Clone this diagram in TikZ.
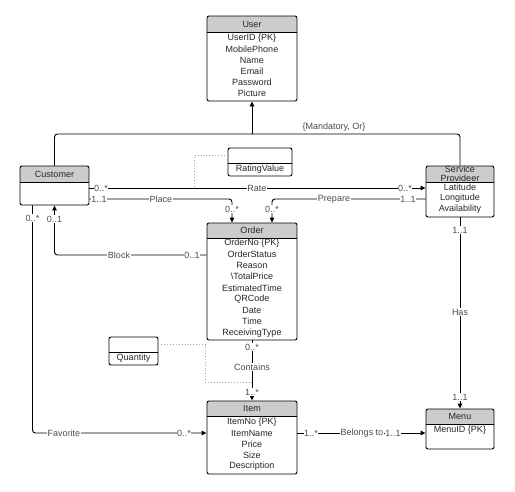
\documentclass[tikz,border=0pt]{standalone}
\usepackage{fontspec}
\setmainfont{Liberation Sans}
\usetikzlibrary{arrows.meta}

\begin{document}
\begin{tikzpicture}[x=1pt, y=-1pt, line width=0.9pt, font=\fontsize{9}{9.5}\selectfont,
	cls/.style={draw, rounded corners=2pt, inner sep=0pt, path picture={
		\fill[gray!40, sharp corners] (path picture bounding box.north west) rectangle ([yshift=-#1pt]path picture bounding box.north east);
		\draw[sharp corners] ([yshift=-#1pt]path picture bounding box.north west) -- ([yshift=-#1pt]path picture bounding box.north east);}},
	assoc/.style={draw, rounded corners=2pt, inner sep=0pt, path picture={
		\draw[sharp corners] ([yshift=-#1pt]path picture bounding box.north west) -- ([yshift=-#1pt]path picture bounding box.north east);}},
	txt/.style={inner sep=0pt, text=black!85},
	link/.style={rounded corners=3pt},
	arr/.style={link, -{Triangle[length=5pt,width=4.5pt]}},
	note/.style={dotted, gray!70},
	lbl/.style={fill=white, inner sep=0.6pt, text=black!70}]
	\useasboundingbox (0,0) rectangle (515,491);

	\node[cls=16, minimum width=90pt, minimum height=85pt] (user) at (252,58.5) {};
	\node[txt] (userT) at (252,24) {User};
	\foreach \a [count=\i] in {UserID \{PK\},MobilePhone,Name,Email,Password,Picture}
		\node[txt] (user\i) at (252,{27+11*\i}) {\a};

	\node[cls=16, minimum width=69pt, minimum height=39pt] (customer) at (54.5,185.5) {};
	\node[txt] (customerT) at (54.5,174) {Customer};

	\node[assoc=15, minimum width=64pt, minimum height=28pt] (rating) at (260,162) {};
	\node[txt] (ratingT) at (260,169.5) {RatingValue};

	\node[cls=16, minimum width=68pt, minimum height=51pt] (sp) at (460,191.5) {};
	\node[txt, align=center, font=\fontsize{9}{8.8}\selectfont] (spT) at (460,174) {Service\\Provideer};
	\foreach \a [count=\i] in {Latitude,Longitude,Availability}
		\node[txt] (sp\i) at (460,{176+11*\i}) {\a};

	\node[cls=15, minimum width=90pt, minimum height=117pt] (order) at (252,281.5) {};
	\node[txt] (orderT) at (252,230.5) {Order};
	\foreach \a [count=\i] in {OrderNo \{PK\},OrderStatus,Reason,\textbackslash TotalPrice,EstimatedTime,QRCode,Date,Time,ReceivingType}
		\node[txt] (order\i) at (252,{231.75+11.25*\i}) {\a};

	\node[assoc=15, minimum width=49pt, minimum height=28pt] (quantity) at (133.5,351) {};
	\node[txt] (quantityT) at (133.5,358.5) {Quantity};

	\node[cls=15, minimum width=90pt, minimum height=73pt] (item) at (252,437.5) {};
	\node[txt] (itemT) at (252,408.5) {Item};
	\foreach \a [count=\i] in {ItemNo \{PK\},ItemName,Price,Size,Description}
		\node[txt] (item\i) at (252,{411+11*\i}) {\a};

	\node[cls=15, minimum width=68pt, minimum height=40pt] (menu) at (460,429) {};
	\node[txt] (menuT) at (460,416.5) {Menu};
	\node[txt] (menu1) at (460,430) {MenuID \{PK\}};

	\coordinate (gen) at (252,134);
	\coordinate (rateDot) at (194,188);
	\coordinate (containsDot) at (252,382);

	\draw[link] (customer.north) |- (gen) -| (sp.north);
	\draw[arr] (gen) -- (user.south);
	\draw[arr] (customer.east |- 0,188) -- (sp.west |- 0,188);
	\draw[arr] (customer.east |- 0,199) -| ([xshift=-20pt]order.north);
	\draw[arr] (sp.west |- 0,199) -| ([xshift=20pt]order.north);
	\draw[arr] (order.west |- 0,255) -| (customer.south);
	\draw[arr] ([xshift=-22pt]customer.south) |- (item.west |- 0,433);
	\draw[arr] (order.south) -- (item.north);
	\draw[arr] (item.east |- 0,433) -- (menu.west |- 0,433);
	\draw[arr] (sp.south) -- (menu.north);
	\draw[note] (rating.west |- 0,155.5) -| (rateDot);
	\draw[note] (quantity.east |- 0,344.5) -- (205,344.5) |- (containsDot);

	\node[lbl, fill=none] (mand) at (334,127) {\{Mandatory, Or\}};
	\node[lbl] (rateM1) at (101,188) {0..*};
	\node[lbl] (rateL) at (257,188) {Rate};
	\node[lbl] (rateM2) at (405,188) {0..*};
	\node[lbl] (placeM1) at (99,199) {1..1};
	\node[lbl] (placeL) at (161,199) {Place};
	\node[lbl] (placeM2) at (232,209) {0..*};
	\node[lbl] (prepareL) at (334,199) {Prepare};
	\node[lbl] (prepareM1) at (408,199) {1..1};
	\node[lbl] (prepareM2) at (272,209) {0..*};
	\node[lbl] (blockL) at (119,255) {Block};
	\node[lbl] (blockM1) at (192,255) {0..1};
	\node[lbl] (blockM2) at (54.5,219) {0..1};
	\node[lbl] (favM1) at (32.5,218) {0..*};
	\node[lbl] (favL) at (64,433) {Favorite};
	\node[lbl] (favM2) at (184,433) {0..*};
	\node[lbl] (contM1) at (252,347) {0..*};
	\node[lbl] (contL) at (252,367) {Contains};
	\node[lbl] (contM2) at (252,392) {1..*};
	\node[lbl] (belM1) at (311,433) {1..*};
	\node[lbl] (belL) at (362,433) {Belongs to};
	\node[lbl] (belM2) at (393,433) {1..1};
	\node[lbl] (hasM1) at (460,230) {1..1};
	\node[lbl] (hasL) at (460,312) {Has};
	\node[lbl] (hasM2) at (460,397) {1..1};
\end{tikzpicture}
\end{document}
